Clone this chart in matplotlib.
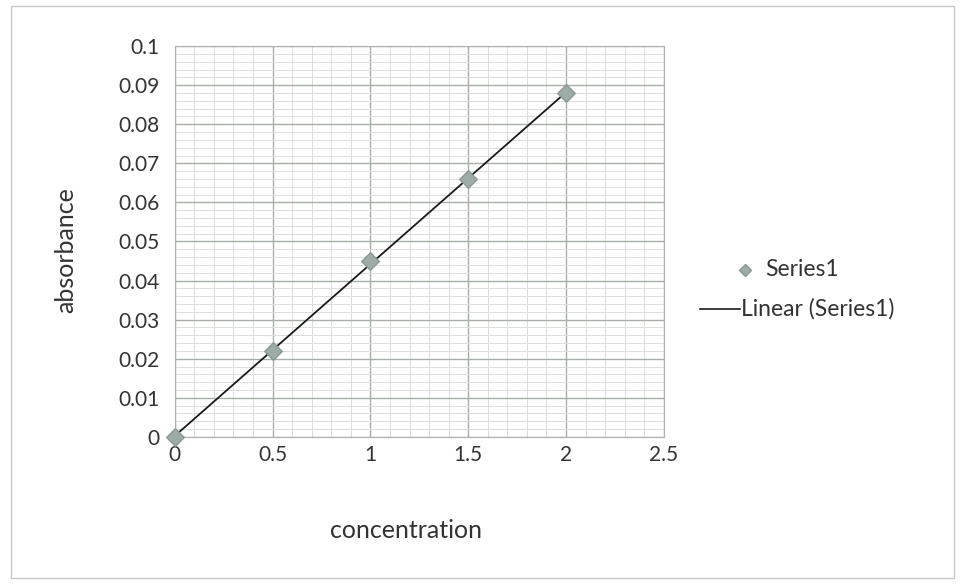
import numpy as np
import matplotlib
matplotlib.use("Agg")
from matplotlib import pyplot as plt
from matplotlib.patches import Rectangle
from matplotlib.lines import Line2D

concentration = [0, 0.5, 1, 1.5, 2]
absorbance = [0.0, 0.022, 0.045, 0.066, 0.088]
xticks = [0, 0.5, 1, 1.5, 2, 2.5]
yticks = [0, 0.01, 0.02, 0.03, 0.04, 0.05, 0.06, 0.07, 0.08, 0.09, 0.1]

plt.rcParams['font.family'] = ['Lato', 'DejaVu Sans']
txtcol = '#333333'
markcol = '#9eaca8'

fig = plt.figure(figsize=(9.65, 5.84), dpi=100)
ax = fig.add_axes([0.181, 0.252, 0.507, 0.669])

# outer chart border
fig.patches.append(Rectangle((0.011, 0.01), 0.978, 0.98, transform=fig.transFigure,
                             fill=False, edgecolor='#c8c8c8', linewidth=1))

ax.set_xlim(0, 2.5)
ax.set_ylim(0, 0.1)
ax.set_xticks(xticks)
ax.set_xticklabels([str(t) for t in xticks])
ax.set_yticks(yticks)
ax.set_yticklabels(['0'] + ['%g' % t for t in yticks[1:]])
ax.set_xticks(np.arange(0, 2.5, 0.1), minor=True)
ax.set_yticks(np.arange(0, 0.1, 0.002), minor=True)
ax.grid(which='major', color='#a8aea8', linewidth=1.0)
ax.grid(which='minor', color='#dcdfdc', linewidth=0.7)
ax.tick_params(which='both', length=0, labelsize=15, colors=txtcol)
ax.tick_params(axis='x', pad=6)
ax.tick_params(axis='y', pad=11)
for s in ax.spines.values():
    s.set_color('#b0b0b0')
    s.set_linewidth(0.8)

# linear trendline
k, b = np.polyfit(concentration, absorbance, 1)
xs = np.array([concentration[0], concentration[-1]])
ax.plot(xs, k * xs + b, color='#1a1a1a', linewidth=1.3, zorder=3)
ax.scatter(concentration, absorbance, marker='D', s=80, color=markcol,
           edgecolors='#8a9994', zorder=4, clip_on=False)

ax.set_xlabel('concentration', fontsize=18, color=txtcol)
ax.set_ylabel('absorbance', fontsize=18, color=txtcol)
ax.xaxis.set_label_coords(0.472, -0.21)
ax.yaxis.set_label_coords(-0.199, 0.478)

# legend, laid out like the Excel one
fig.add_artist(Line2D([0.772], [0.538], marker='D', markersize=6, linestyle='none',
                      color=markcol, markeredgecolor='#8a9994', transform=fig.transFigure))
fig.text(0.793, 0.538, 'Series1', fontsize=16.5, color=txtcol, va='center', ha='left')
fig.add_artist(Line2D([0.725, 0.767], [0.471, 0.471], color='#1a1a1a', linewidth=1.2,
                      transform=fig.transFigure))
fig.text(0.768, 0.471, 'Linear (Series1)', fontsize=16.5, color=txtcol, va='center', ha='left')

plt.savefig('out.png', dpi=100)
